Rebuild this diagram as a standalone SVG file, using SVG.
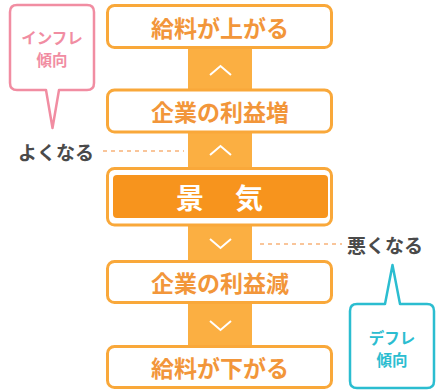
<svg xmlns="http://www.w3.org/2000/svg" width="437" height="390" viewBox="0 0 437 390">
<style>
.box{fill:#fff;stroke:#F9A83A;stroke-width:3}
.bt{font-family:"Noto Sans CJK JP","Noto Sans",sans-serif;font-weight:700;font-size:23px;fill:#F2963A;text-anchor:middle;dominant-baseline:central}
.band{fill:#FBAF42}
.chev{fill:none;stroke:#fff;stroke-width:2}
.dash{stroke:#F7B27A;stroke-width:1.5;stroke-dasharray:4 4;fill:none}
.gt{font-family:"Noto Sans CJK JP","Noto Sans",sans-serif;font-weight:700;font-size:19px;fill:#4A4A4A;dominant-baseline:central}
.bub{fill:#fff;stroke-width:2.5;stroke-linejoin:round}
.bubt{font-family:"Noto Sans CJK JP","Noto Sans",sans-serif;font-weight:700;font-size:15.5px;text-anchor:middle;dominant-baseline:central}
</style>
<g id="connectors">
<rect class="band" x="188" y="48" width="64" height="42"/>
<polyline class="chev" points="210,75 220.5,66 231,75"/>
<rect class="band" x="188" y="132" width="64" height="37"/>
<polyline class="chev" points="210,155 220.5,146 231,155"/>
<rect class="band" x="188" y="225" width="64" height="37"/>
<polyline class="chev" points="210,239 220.5,248 231,239"/>
<rect class="band" x="188" y="302" width="64" height="45"/>
<polyline class="chev" points="210,321 220.5,330 231,321"/>
<line class="dash" x1="103" y1="151" x2="184" y2="151"/>
<line class="dash" x1="260" y1="244" x2="342" y2="244"/>
</g>
<g id="n1"><rect class="box" x="107.5" y="5.5" width="224" height="42" rx="7"/><text class="bt" x="220" y="26.5">給料が上がる</text></g>
<g id="n2"><rect class="box" x="107.5" y="90" width="224" height="42" rx="7"/><text class="bt" x="220" y="111">企業の利益増</text></g>
<g id="n3"><rect class="box" x="107.5" y="168.5" width="224" height="56.5" rx="7"/><rect x="113" y="175" width="215" height="43" rx="4" fill="#F7941D"/><text class="bt" x="190" y="197" style="fill:#fff;font-size:28px">景</text><text class="bt" x="249" y="197" style="fill:#fff;font-size:28px">気</text></g>
<g id="n4"><rect class="box" x="107.5" y="261.5" width="224" height="41" rx="7"/><text class="bt" x="220" y="282">企業の利益減</text></g>
<g id="n5"><rect class="box" x="107.5" y="346.5" width="224" height="41" rx="7"/><text class="bt" x="220" y="367">給料が下がる</text></g>
<g id="good"><text class="gt" x="18" y="151">よくなる</text></g>
<g id="bad"><text class="gt" x="347" y="244">悪くなる</text></g>
<g id="inflation">
<path class="bub" stroke="#F18DA2" d="M17 5 H87 Q94 5 94 12 V83 Q94 90 87 90 H59 L52.5 128 L46 90 H17 Q10 90 10 83 V12 Q10 5 17 5 Z"/>
<text class="bubt" x="52" y="37" fill="#F18DA2">インフレ</text>
<text class="bubt" x="52" y="59" fill="#F18DA2">傾向</text>
</g>
<g id="deflation">
<path class="bub" stroke="#2BBDD0" d="M357 304 H385 L392.5 265 L400 304 H427 Q434 304 434 311 V381 Q434 388 427 388 H357 Q350 388 350 381 V311 Q350 304 357 304 Z"/>
<text class="bubt" x="392" y="337" fill="#2BBDD0">デフレ</text>
<text class="bubt" x="392" y="359" fill="#2BBDD0">傾向</text>
</g>
</svg>
